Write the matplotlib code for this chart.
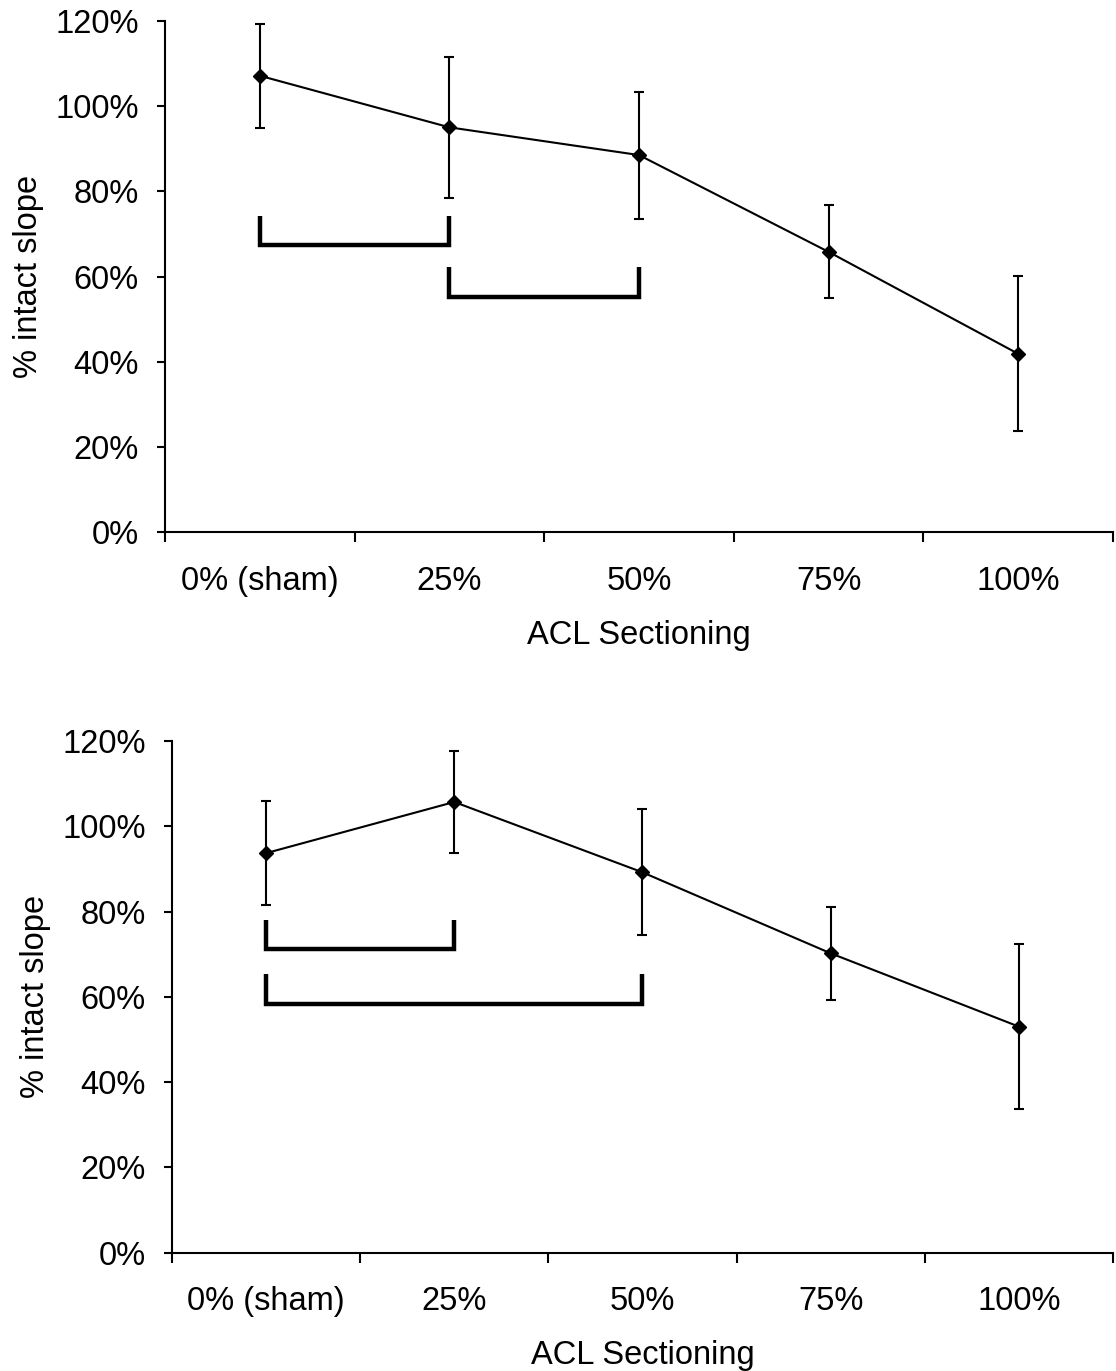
import numpy as np
import matplotlib.pyplot as plt

plt.rcParams['font.family'] = ['Liberation Sans', 'DejaVu Sans']

cats = ['0% (sham)', '25%', '50%', '75%', '100%']

# top panel
mean_a = [107.1, 95.0, 88.5, 65.8, 41.9]
err_a = [12.2, 16.6, 14.9, 10.9, 18.2]
# brackets: (left cat, right cat, top of legs, bar level)
brk_a = [(0, 1, 74.3, 67.3), (1, 2, 62.3, 55.2)]

# bottom panel
mean_b = [93.7, 105.7, 89.2, 70.2, 53.0]
err_b = [12.2, 12.0, 14.8, 10.9, 19.3]
brk_b = [(0, 1, 78.1, 71.1), (0, 2, 65.3, 58.4)]

yticks = [0, 20, 40, 60, 80, 100, 120]

fig = plt.figure(figsize=(11.16, 13.71), dpi=100)
ax1 = fig.add_axes([0.1478, 0.6116, 0.8495, 0.3733])
ax2 = fig.add_axes([0.1541, 0.0864, 0.8432, 0.3731])

FS = 23.5


def panel(ax, mean, err, brk):
    x = np.arange(len(cats))
    ax.errorbar(x, mean, yerr=err, color='black', lw=1.5, marker='D',
                markersize=7.5, capsize=3.5, elinewidth=1.5, capthick=1.5,
                zorder=3)
    for a, b, top, low in brk:
        ax.plot([a, a, b, b], [top, low, low, top], color='black', lw=3.2,
                solid_joinstyle='miter', solid_capstyle='butt')
    ax.set_xlim(-0.5, len(cats) - 0.5)
    ax.set_ylim(0, 120)
    ax.set_yticks(yticks)
    ax.set_yticklabels(['%d%%' % v for v in yticks])
    ax.set_xticks(np.arange(-0.5, len(cats), 1))
    ax.set_xticklabels([])
    ax.set_xticks(x, minor=True)
    ax.set_xticklabels(cats, minor=True)
    ax.tick_params(axis='x', which='major', length=7, width=1.5, direction='out')
    ax.tick_params(axis='x', which='minor', length=0, pad=24, labelsize=FS)
    ax.tick_params(axis='y', length=6, width=1.5, direction='out', pad=13,
                   labelsize=FS)
    for s in ['top', 'right']:
        ax.spines[s].set_visible(False)
    for s in ['left', 'bottom']:
        ax.spines[s].set_linewidth(1.5)
    ax.set_xlabel('ACL Sectioning', fontsize=FS, labelpad=17)
    ax.set_ylabel('% intact slope', fontsize=FS, labelpad=8)


panel(ax1, mean_a, err_a, brk_a)
panel(ax2, mean_b, err_b, brk_b)

fig.savefig('out.png', dpi=100)
